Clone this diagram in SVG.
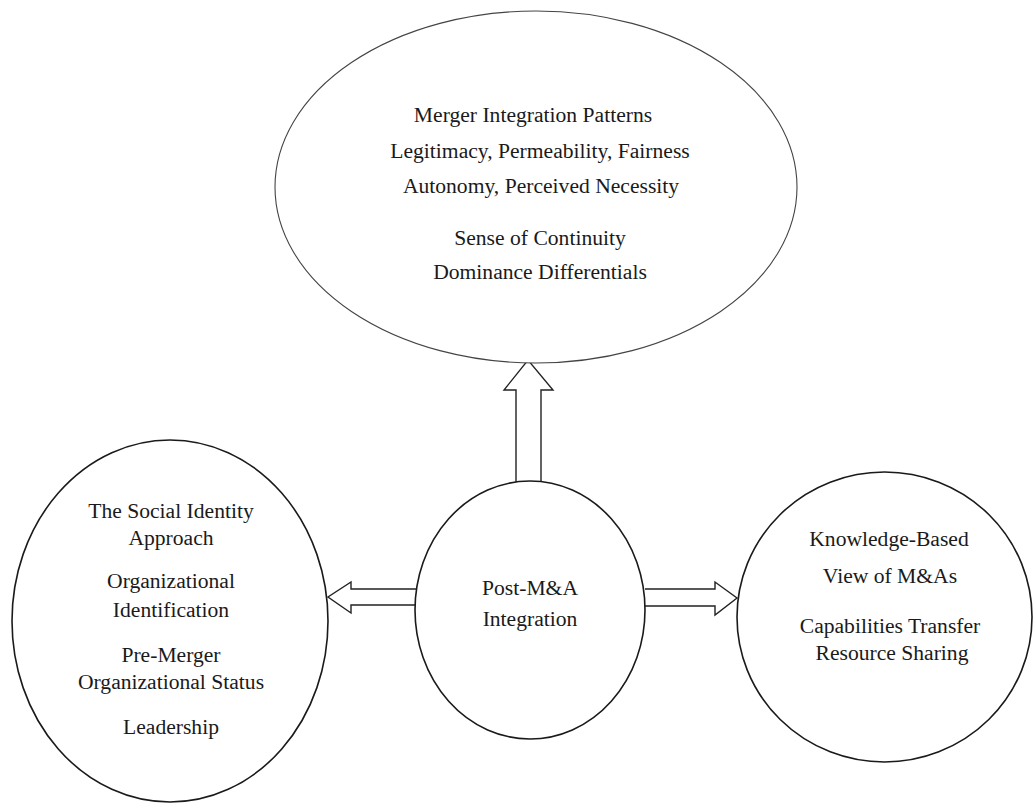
<svg xmlns="http://www.w3.org/2000/svg" width="1033" height="803" viewBox="0 0 1033 803">
<style>
.bg{fill:#ffffff}
.node{fill:#ffffff;stroke:#1a1a1a;stroke-width:1.6}
.thin{stroke:#444;stroke-width:1.1}
.arrow{fill:#ffffff;stroke:#222;stroke-width:1.4;stroke-linejoin:miter}
text{font-family:"Liberation Serif","Times New Roman",serif;font-size:21.6px;fill:#1a1a1a;text-anchor:middle}
</style>
<rect class="bg" x="0" y="0" width="1033" height="803"/>
<g id="connectors">
<path class="arrow" d="M516,482 L516,390 L504,390 L528,360 L553,390 L541,390 L541,482"/>
<path class="arrow" d="M416,589 L351,589 L351,582 L328,597 L351,613 L351,605 L416,605"/>
<path class="arrow" d="M645,589 L715,589 L715,582 L737,598 L715,615 L715,606 L645,606"/>
</g>
<g id="node-top">
<ellipse class="node thin" cx="536" cy="187" rx="261" ry="176"/>
<text x="533" y="122">Merger Integration Patterns</text>
<text x="540" y="158">Legitimacy, Permeability, Fairness</text>
<text x="541" y="193">Autonomy, Perceived Necessity</text>
<text x="540" y="245">Sense of Continuity</text>
<text x="540" y="279">Dominance Differentials</text>
</g>
<g id="node-center">
<ellipse class="node" cx="530" cy="610" rx="115" ry="129"/>
<text x="530" y="595">Post-M&amp;A</text>
<text x="530" y="626">Integration</text>
</g>
<g id="node-left">
<ellipse class="node" cx="170" cy="621" rx="158" ry="181"/>
<text x="171" y="518">The Social Identity</text>
<text x="171" y="545">Approach</text>
<text x="171" y="588">Organizational</text>
<text x="171" y="617">Identification</text>
<text x="171" y="662">Pre-Merger</text>
<text x="171" y="689">Organizational Status</text>
<text x="171" y="734">Leadership</text>
</g>
<g id="node-right">
<ellipse class="node" cx="884.5" cy="617" rx="147.5" ry="145"/>
<text x="889" y="546">Knowledge-Based</text>
<text x="890" y="583">View of M&amp;As</text>
<text x="890" y="633">Capabilities Transfer</text>
<text x="892" y="660">Resource Sharing</text>
</g>
</svg>
